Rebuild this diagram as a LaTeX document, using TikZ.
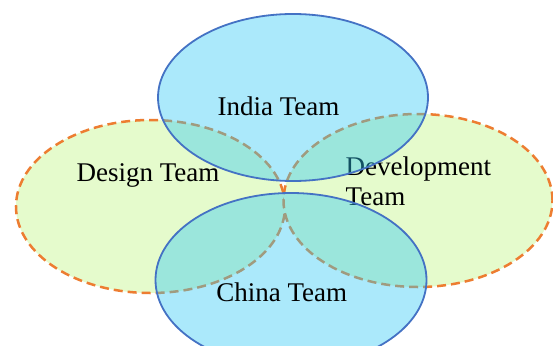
\documentclass[tikz,border=0pt]{standalone}
\usepackage{fontspec}
\setmainfont{Liberation Serif}
\usetikzlibrary{shapes.geometric}
\definecolor{leafgreen}{RGB}{229,251,204}
\definecolor{ringorange}{RGB}{237,125,49}
\definecolor{skyfill}{RGB}{45,200,245}
\definecolor{ringblue}{RGB}{68,114,196}
\tikzset{
  sidering/.style={ellipse, draw=ringorange, fill=leafgreen, line width=2.5pt,
    dash pattern=on 9pt off 5pt, inner sep=0pt},
  teamring/.style={ellipse, draw=ringblue, fill=skyfill, fill opacity=0.4,
    line width=1.8pt, inner sep=0pt},
  teamlabel/.style={font=\fontsize{27}{30}\selectfont, anchor=base, inner sep=0pt},
}
\begin{document}
\begin{tikzpicture}[x=1pt,y=-1pt]
  \clip (0,0) rectangle (553,345);
  \fill[white] (0,0) rectangle (553,345);
  % side groups
  \node[sidering, minimum width=269pt, minimum height=173pt] (design) at (150.5,206.5) {};
  \node[sidering, minimum width=269pt, minimum height=173pt] (dev) at (418,200.5) {};
  \node[teamlabel] (designtxt) at (148,181.7) {Design Team};
  \node[teamlabel, anchor=base west, align=left] (devtxt) at (345.5,205) {Development\\Team};
  % regional teams, translucent on top
  \node[teamring, minimum width=270pt, minimum height=167pt] (india) at (293,97.5) {};
  \node[teamring, minimum width=271pt, minimum height=174pt] (china) at (291,280) {};
  \node[teamlabel] (indiatxt) at (278.5,115.7) {India Team};
  \node[teamlabel] (chinatxt) at (281.7,301.7) {China Team};
\end{tikzpicture}
\end{document}
